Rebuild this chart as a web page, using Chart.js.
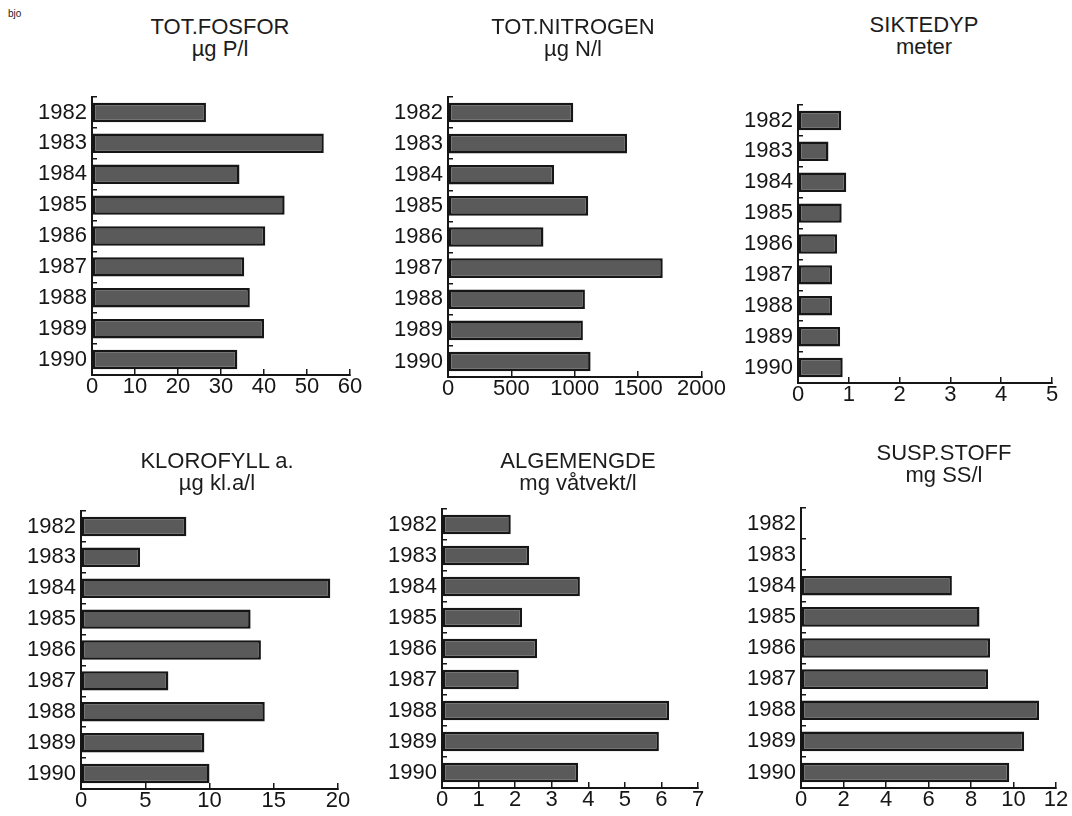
<!DOCTYPE html>
<html>
<head>
<meta charset="utf-8">
<script src="https://cdn.jsdelivr.net/npm/chart.js@4.4.0/dist/chart.umd.min.js"></script>
<style>
  html, body { margin: 0; padding: 0; background: #fff; overflow: hidden; }
  body { width: 1072px; height: 816px; position: relative; font-family: "Liberation Sans", Arial, sans-serif; color: #1c1c1c; }
  canvas { position: absolute; }
  .title { position: absolute; width: 300px; text-align: center; font-size: 22px; line-height: 22px; white-space: nowrap; }
  .mark { position: absolute; left: 8px; top: 8px; font-size: 10px; }
</style>
</head>
<body>
<div class="mark">bjo</div>
<script>
const years = ['1982', '1983', '1984', '1985', '1986', '1987', '1988', '1989', '1990'];

// values
const totFosfor = [26.5, 53.9, 34.3, 44.8, 40.3, 35.4, 36.7, 40.0, 33.8];
const totNitrogen = [988, 1412, 837, 1106, 753, 1694, 1080, 1064, 1125];
const siktedyp = [0.85, 0.60, 0.95, 0.86, 0.77, 0.67, 0.67, 0.83, 0.88];
const klorofyll = [8.2, 4.6, 19.4, 13.2, 14.0, 6.8, 14.3, 9.6, 10.0];
const algemengde = [1.88, 2.38, 3.77, 2.19, 2.60, 2.10, 6.21, 5.93, 3.72];
const suspStoff = [null, null, 7.1, 8.4, 8.9, 8.8, 11.2, 10.5, 9.8];

const titles = ['TOT.FOSFOR', 'TOT.NITROGEN', 'SIKTEDYP', 'KLOROFYLL a.', 'ALGEMENGDE', 'SUSP.STOFF'];
const units = ['µg P/l', 'µg N/l', 'meter', 'µg kl.a/l', 'mg våtvekt/l', 'mg SS/l'];
const axisMax = [60, 2000, 5, 20, 7, 12];
const axisStep = [10, 500, 1, 5, 1, 2];
const series = [totFosfor, totNitrogen, siktedyp, klorofyll, algemengde, suspStoff];

// plot area [left, right, top, bottom] and title centre [x, y] of each panel
const plotBox = [
  [92, 350, 97, 375], [448, 703, 97, 377], [798, 1052, 105, 383],
  [81, 338, 511, 789], [442, 698, 509, 788], [801, 1056, 508, 788]
];
const titlePos = [[220, 27], [573, 27], [924, 25], [217, 461], [578, 461], [944, 453]];

const ink = '#161616';
Chart.defaults.font.family = "'Liberation Sans', Arial, sans-serif";
Chart.defaults.color = ink;

const tickFont = { size: 22, lineHeight: 1 };

series.forEach((values, i) => {
  const [L, R, T, B] = plotBox[i];
  const left = L - 80, top = T - 24;
  const canvas = document.createElement('canvas');
  canvas.width = R - left + 30;
  canvas.height = B - top + 36;
  canvas.style.left = left + 'px';
  canvas.style.top = top + 'px';
  document.body.appendChild(canvas);

  new Chart(canvas, {
    type: 'bar',
    data: {
      labels: years,
      datasets: [{
        data: values,
        backgroundColor: '#5a5a5a',
        borderColor: ink,
        borderWidth: 2.5,
        borderSkipped: false,
        barPercentage: 0.63,
        categoryPercentage: 1
      }]
    },
    options: {
      indexAxis: 'y',
      responsive: false,
      animation: false,
      layout: { padding: { left: 0, top: 24, right: 30, bottom: 0 } },
      plugins: { legend: { display: false }, tooltip: { enabled: false } },
      scales: {
        y: {
          grid: { drawOnChartArea: false, tickLength: -5, color: ink, lineWidth: 1.5 },
          border: { color: ink, width: 2 },
          ticks: { padding: 10, color: ink, font: tickFont },
          afterFit: s => { s.width = 80; }
        },
        x: {
          min: 0,
          max: axisMax[i],
          grid: { drawOnChartArea: false, tickLength: -6, color: ink, lineWidth: 1.5 },
          border: { color: ink, width: 2 },
          ticks: { stepSize: axisStep[i], padding: 7, color: ink, font: tickFont, maxRotation: 0, callback: v => String(v) },
          afterFit: s => { s.height = 36; }
        }
      }
    }
  });

  const head = document.createElement('div');
  head.className = 'title';
  head.style.left = (titlePos[i][0] - 150) + 'px';
  head.style.top = (titlePos[i][1] - 11) + 'px';
  head.innerHTML = titles[i] + '<br>' + units[i];
  document.body.appendChild(head);
});
</script>
</body>
</html>
